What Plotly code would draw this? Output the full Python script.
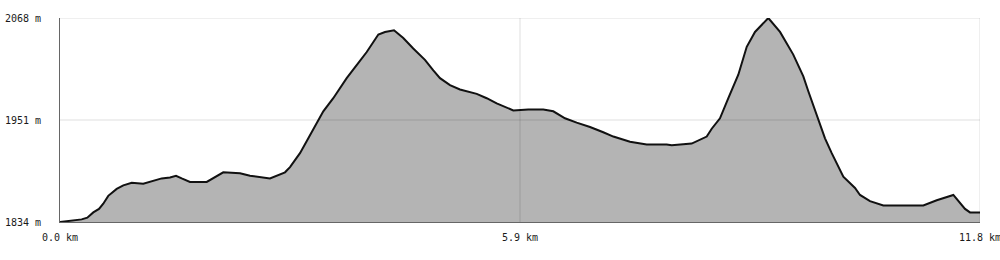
import plotly.graph_objects as go

# distance along track (km) and elevation (m)
distance_km = [0.000, 0.150, 0.278, 0.350, 0.427, 0.500, 0.555, 0.619, 0.727, 0.812,
               0.920, 1.068, 1.197, 1.304, 1.411, 1.488, 1.561, 1.667, 1.882, 2.094,
               2.309, 2.437, 2.693, 2.886, 2.950, 3.078, 3.185, 3.377, 3.505, 3.677,
               3.805, 3.934, 4.083, 4.168, 4.284, 4.403, 4.531, 4.681, 4.788, 4.874,
               5.002, 5.130, 5.345, 5.473, 5.601, 5.814, 6.006, 6.199, 6.327, 6.477,
               6.627, 6.798, 6.968, 7.097, 7.311, 7.525, 7.781, 7.846, 8.102, 8.209,
               8.295, 8.359, 8.465, 8.572, 8.700, 8.808, 8.914, 9.085, 9.235, 9.405,
               9.534, 9.598, 9.662, 9.726, 9.812, 9.898, 10.047, 10.197, 10.261, 10.389,
               10.560, 11.073, 11.245, 11.458, 11.608, 11.672, 11.800]
elevation_m = [1834, 1836, 1837, 1839, 1845, 1849, 1855, 1864, 1872, 1876,
               1879, 1878, 1881, 1884, 1885, 1887, 1884, 1880, 1880, 1891,
               1890, 1887, 1884, 1891, 1897, 1913, 1930, 1961, 1976, 1999,
               2014, 2029, 2049, 2052, 2054, 2045, 2033, 2020, 2008, 1999,
               1991, 1986, 1981, 1976, 1970, 1962, 1963, 1963, 1961, 1953,
               1948, 1943, 1937, 1932, 1926, 1923, 1923, 1922, 1924, 1928,
               1932, 1941, 1953, 1976, 2003, 2035, 2052, 2068, 2052, 2026,
               2001, 1984, 1968, 1951, 1930, 1913, 1886, 1873, 1865, 1858,
               1853, 1853, 1859, 1865, 1849, 1845, 1845]

x_ticks = [0.0, 5.9, 11.8]
x_tick_labels = ["0.0 km", "5.9 km", "11.8 km"]
y_ticks = [1834, 1951, 2068]
y_tick_labels = ["1834 m", "1951 m", "2068 m"]

FONT = dict(family="DejaVu Sans Mono", size=10, color="#1a1a1a")
GRID = "rgba(0,0,0,0.13)"

fig = go.Figure()
fig.add_trace(go.Scatter(
    x=distance_km, y=elevation_m, mode="lines",
    fill="tozeroy", fillcolor="rgb(180,180,180)",
    line=dict(color="#111111", width=2),
    hoverinfo="skip", showlegend=False,
))

shapes = []
for xv in x_ticks[1:]:
    shapes.append(dict(type="line", xref="x", yref="paper", x0=xv, x1=xv, y0=0, y1=1,
                       line=dict(color=GRID, width=1), layer="above"))
for yv in y_ticks[1:]:
    shapes.append(dict(type="line", xref="paper", yref="y", x0=0, x1=1, y0=yv, y1=yv,
                       line=dict(color=GRID, width=1), layer="above"))

fig.update_layout(
    width=1000, height=260,
    margin=dict(l=60, r=20, t=18, b=38),
    paper_bgcolor="white", plot_bgcolor="white",
    font=FONT,
    shapes=shapes,
    xaxis=dict(range=[0, 11.8], tickmode="array", tickvals=x_ticks, ticktext=x_tick_labels,
               showgrid=False, zeroline=False, showline=True, linecolor="#666666", linewidth=1,
               ticks="", ticklabelstandoff=6, ticklabeloverflow="allow", tickfont=FONT,
               automargin=False),
    yaxis=dict(range=[1834, 2068], tickmode="array", tickvals=y_ticks, ticktext=y_tick_labels,
               showgrid=False, zeroline=False, showline=True, linecolor="#666666", linewidth=1,
               ticks="", ticklabelstandoff=16, ticklabeloverflow="allow", tickfont=FONT,
               automargin=False),
)

fig.write_html("out.html")
